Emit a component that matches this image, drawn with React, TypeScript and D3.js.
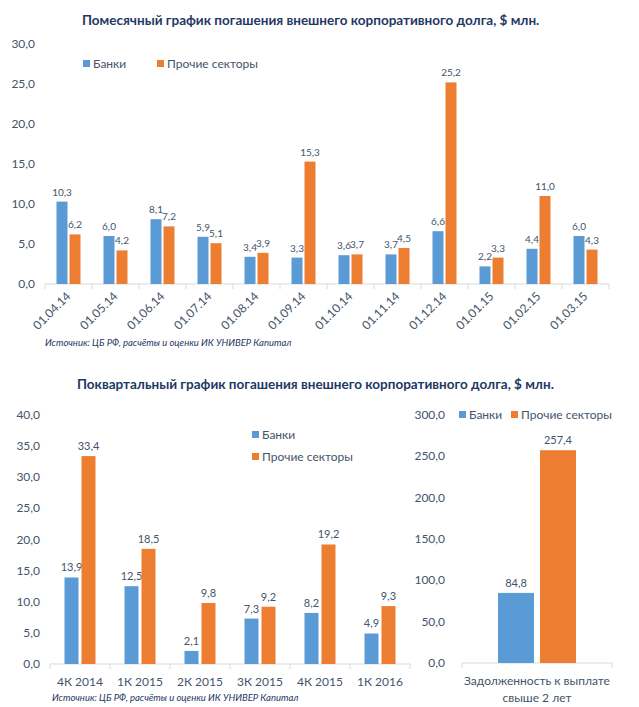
import { useEffect, useRef } from 'react';
import * as d3 from 'd3';

const months = ['01.04.14', '01.05.14', '01.06.14', '01.07.14', '01.08.14', '01.09.14', '01.10.14', '01.11.14', '01.12.14', '01.01.15', '01.02.15', '01.03.15'];
const monthBanks = [10.3, 6.0, 8.1, 5.9, 3.4, 3.3, 3.6, 3.7, 6.6, 2.2, 4.4, 6.0];
const monthOther = [6.2, 4.2, 7.2, 5.1, 3.9, 15.3, 3.7, 4.5, 25.2, 3.3, 11.0, 4.3];

const quarters = ['4К 2014', '1К 2015', '2К 2015', '3К 2015', '4К 2015', '1К 2016'];
const quarterBanks = [13.9, 12.5, 2.1, 7.3, 8.2, 4.9];
const quarterOther = [33.4, 18.5, 9.8, 9.2, 19.2, 9.3];

const longTerm = ['Задолженность к выплате|свыше 2 лет'];
const longBanks = [84.8];
const longOther = [257.4];

const BLUE = '#5B9BD5';
const ORANGE = '#ED7D31';
const TEXT = '#44546A';
const TITLE = '#1F3864';
const AXIS = '#D9D9D9';
const FONT = 'Lato, "Open Sans", sans-serif';

const fmt = (v: number) => d3.format('.1f')(v).replace('.', ',');

type ChartOpts = {
  cats: string[];
  banks: number[];
  other: number[];
  x0: number;
  x1: number;
  yTop: number;
  yBottom: number;
  max: number;
  step: number;
  barW: number;
  gap: number;
  labelRight: number;
  valueSize?: number;
  rotate?: boolean;
};

function drawChart(svg: d3.Selection<SVGSVGElement, unknown, null, undefined>, o: ChartOpts) {
  const x = d3.scaleBand().domain(o.cats).range([o.x0, o.x1]);
  const y = d3.scaleLinear().domain([0, o.max]).range([o.yBottom, o.yTop]);
  const g = svg.append('g');

  // y tick labels, no axis line
  g.selectAll('text.ytick')
    .data(d3.range(0, o.max + o.step / 2, o.step))
    .join('text')
    .attr('x', o.labelRight)
    .attr('y', (d) => y(d) + 4)
    .attr('text-anchor', 'end')
    .attr('font-size', 12)
    .attr('fill', TEXT)
    .text((d) => fmt(d));

  // baseline with tick marks between categories
  g.append('line')
    .attr('x1', o.x0).attr('x2', o.x1)
    .attr('y1', y(0)).attr('y2', y(0))
    .attr('stroke', AXIS);
  g.selectAll('line.sep')
    .data(d3.range(o.cats.length + 1))
    .join('line')
    .attr('x1', (i) => o.x0 + i * x.bandwidth())
    .attr('x2', (i) => o.x0 + i * x.bandwidth())
    .attr('y1', y(0))
    .attr('y2', y(0) + 5)
    .attr('stroke', AXIS);

  const series = [
    { vals: o.banks, color: BLUE, off: -o.gap / 2 - o.barW },
    { vals: o.other, color: ORANGE, off: o.gap / 2 },
  ];
  series.forEach((s) => {
    const cx = (i: number) => (x(o.cats[i]) ?? 0) + x.bandwidth() / 2 + s.off;
    g.append('g')
      .selectAll('rect')
      .data(s.vals)
      .join('rect')
      .attr('x', (_d, i) => cx(i))
      .attr('width', o.barW)
      .attr('y', (d) => y(d))
      .attr('height', (d) => y(0) - y(d))
      .attr('fill', s.color);
    g.append('g')
      .selectAll('text')
      .data(s.vals)
      .join('text')
      .attr('x', (_d, i) => cx(i) + o.barW / 2)
      .attr('y', (d) => y(d) - 6)
      .attr('text-anchor', 'middle')
      .attr('font-size', o.valueSize ?? 11)
      .attr('fill', TEXT)
      .text((d) => fmt(d));
  });

  // category labels
  const cl = g.append('g')
    .selectAll('text')
    .data(o.cats)
    .join('text')
    .attr('font-size', 12)
    .attr('fill', TEXT);
  if (o.rotate) {
    cl.attr('text-anchor', 'end')
      .attr('transform', (d) => `translate(${(x(d) ?? 0) + x.bandwidth() / 2 + 3},${y(0) + 13}) rotate(-45)`)
      .text((d) => d);
  } else {
    cl.attr('text-anchor', 'middle').each(function (d) {
      const parts = d.split('|');
      d3.select(this)
        .selectAll('tspan')
        .data(parts)
        .join('tspan')
        .attr('x', (x(d) ?? 0) + x.bandwidth() / 2)
        .attr('y', (_p, i) => y(0) + 22 + i * 17)
        .text((p) => p);
    });
  }
}

function legend(svg: d3.Selection<SVGSVGElement, unknown, null, undefined>, items: { label: string; color: string; x: number; y: number }[]) {
  const g = svg.append('g');
  items.forEach((it) => {
    g.append('rect').attr('x', it.x).attr('y', it.y - 4).attr('width', 7).attr('height', 7).attr('fill', it.color);
    g.append('text').attr('x', it.x + 10).attr('y', it.y + 4).attr('font-size', 12).attr('fill', TEXT).text(it.label);
  });
}

export default function App() {
  const svgRef = useRef<SVGSVGElement>(null);

  useEffect(() => {
    const svg = d3.select(svgRef.current);
    if (!svg.node()) return;
    svg.selectAll('*').remove();
    svg.attr('font-family', FONT);

    svg.append('text')
      .attr('x', 82).attr('y', 25)
      .attr('font-size', 13.5).attr('font-weight', 'bold').attr('fill', TITLE)
      .text('Помесячный график погашения внешнего корпоративного долга, $ млн.');

    drawChart(svg, {
      cats: months, banks: monthBanks, other: monthOther,
      x0: 45, x1: 609, yTop: 44, yBottom: 284, max: 30, step: 5,
      barW: 11, gap: 2, labelRight: 35, valueSize: 10, rotate: true,
    });
    legend(svg, [
      { label: 'Банки', color: BLUE, x: 83, y: 64 },
      { label: 'Прочие секторы', color: ORANGE, x: 157, y: 64 },
    ]);
    svg.append('text')
      .attr('x', 45).attr('y', 346)
      .attr('font-size', 9.5).attr('font-style', 'italic').attr('fill', TITLE)
      .text('Источник: ЦБ РФ, расчёты и оценки ИК УНИВЕР Капитал');

    svg.append('text')
      .attr('x', 77).attr('y', 389)
      .attr('font-size', 13.5).attr('font-weight', 'bold').attr('fill', TITLE)
      .text('Поквартальный график погашения внешнего корпоративного долга, $ млн.');

    drawChart(svg, {
      cats: quarters, banks: quarterBanks, other: quarterOther,
      x0: 50, x1: 410, yTop: 415, yBottom: 664, max: 40, step: 5,
      barW: 14, gap: 3, labelRight: 40,
    });
    legend(svg, [
      { label: 'Банки', color: BLUE, x: 252, y: 435 },
      { label: 'Прочие секторы', color: ORANGE, x: 252, y: 457 },
    ]);
    svg.append('text')
      .attr('x', 52).attr('y', 701)
      .attr('font-size', 9.5).attr('font-style', 'italic').attr('fill', TITLE)
      .text('Источник: ЦБ РФ, расчёты и оценки ИК УНИВЕР Капитал');

    drawChart(svg, {
      cats: longTerm, banks: longBanks, other: longOther,
      x0: 462, x1: 612, yTop: 415, yBottom: 663, max: 300, step: 50,
      barW: 36, gap: 6, labelRight: 445,
    });
    legend(svg, [
      { label: 'Банки', color: BLUE, x: 459, y: 415 },
      { label: 'Прочие секторы', color: ORANGE, x: 511, y: 415 },
    ]);
  }, []);

  return (
    <svg
      ref={svgRef}
      width={639}
      height={707}
      style={{ position: 'absolute', left: 0, top: 0, background: '#fff' }}
    />
  );
}
